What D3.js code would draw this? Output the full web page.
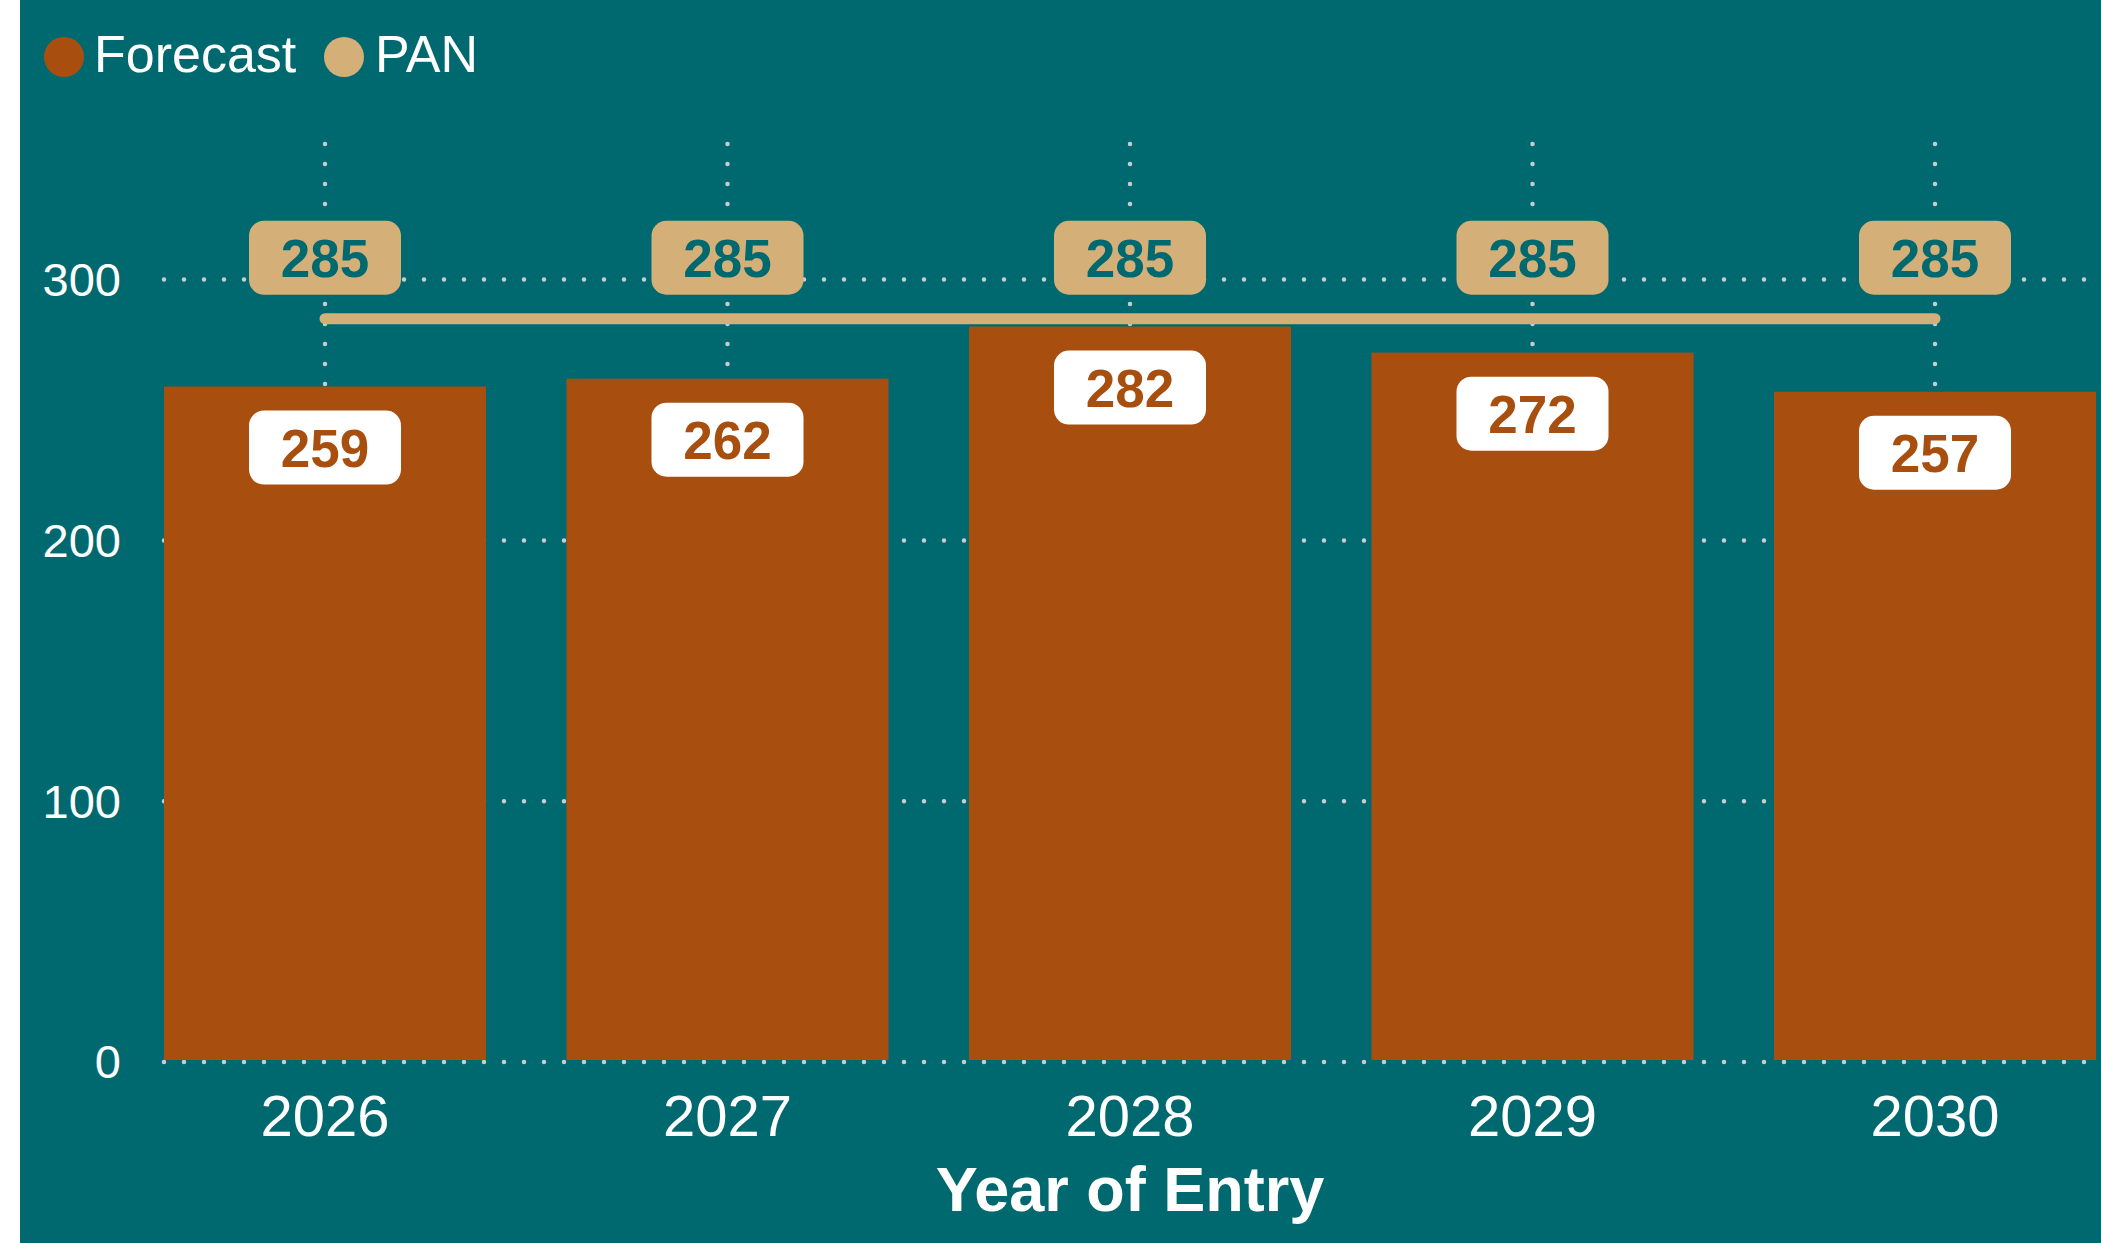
<!DOCTYPE html>
<html>
<head>
<meta charset="utf-8">
<script src="https://cdn.jsdelivr.net/npm/d3@7"></script>
<style>
  html, body { margin: 0; padding: 0; background: #ffffff; }
  svg { display: block; }
  text { font-family: "Liberation Sans", Arial, Helvetica, sans-serif; }
</style>
</head>
<body>
<svg id="chart" width="2101" height="1243"></svg>
<script>
// ---- data ----
const years = ["2026", "2027", "2028", "2029", "2030"];
const forecast = [259, 262, 282, 272, 257];
const pan = [285, 285, 285, 285, 285];
const yTicks = [0, 100, 200, 300];
const seriesNames = ["Forecast", "PAN"];
const axisTitle = "Year of Entry";

// ---- styles ----
const TEAL = "#006970";
const BAR = "#A84F10";
const PANC = "#D4B078";
const GRID = "#c9cdd0";

const W = 2101, H = 1243;
const svg = d3.select("#chart");

svg.append("rect").attr("x", 20).attr("y", 0).attr("width", W - 20).attr("height", H).attr("fill", TEAL);

const plot = { left: 164, right: 2096, top: 144, bottom: 1062 };

const x = d3.scaleBand().domain(years).range([plot.left, plot.right]).paddingInner(0.2).paddingOuter(0);
const y = d3.scaleLinear().domain([0, 352]).range([plot.bottom, plot.top]);

// gridlines (dotted)
const grid = svg.append("g");
grid.selectAll("line.h").data(yTicks).join("line")
  .attr("x1", plot.left).attr("x2", plot.right)
  .attr("y1", d => y(d)).attr("y2", d => y(d))
  .attr("stroke", GRID).attr("stroke-width", 4.5)
  .attr("stroke-linecap", "round").attr("stroke-dasharray", "0 20");
grid.selectAll("line.v").data(years).join("line")
  .attr("x1", d => x(d) + x.bandwidth() / 2).attr("x2", d => x(d) + x.bandwidth() / 2)
  .attr("y1", plot.top).attr("y2", plot.bottom)
  .attr("stroke", GRID).attr("stroke-width", 4.5)
  .attr("stroke-linecap", "round").attr("stroke-dasharray", "0 20");

// y axis
const yAxis = d3.axisLeft(y).tickValues(yTicks).tickSize(0).tickPadding(0);
const yg = svg.append("g").attr("transform", "translate(121,0)").call(yAxis);
yg.select(".domain").remove();
yg.selectAll("text").attr("fill", "#ffffff").attr("font-size", 47).attr("dy", "0.34em")
  .attr("font-family", "'Liberation Sans', Arial, sans-serif");

// x axis
const xAxis = d3.axisBottom(x).tickSize(0).tickPadding(0);
const xg = svg.append("g").attr("transform", "translate(0,1136)").call(xAxis);
xg.select(".domain").remove();
xg.selectAll("text").attr("fill", "#ffffff").attr("font-size", 58).attr("dy", 0)
  .attr("font-family", "'Liberation Sans', Arial, sans-serif");

// axis title
svg.append("text").attr("x", (plot.left + plot.right) / 2 - 0).attr("y", 1211)
  .attr("text-anchor", "middle").attr("fill", "#ffffff")
  .attr("font-size", 63).attr("font-weight", "bold").text(axisTitle);

// bars
svg.append("g").selectAll("rect").data(years).join("rect")
  .attr("x", d => x(d)).attr("width", x.bandwidth())
  .attr("y", (d, i) => y(forecast[i]))
  .attr("height", (d, i) => y(0) - 2 - y(forecast[i]))
  .attr("fill", BAR);

// PAN line
const line = d3.line().x((d, i) => x(years[i]) + x.bandwidth() / 2).y(d => y(d));
svg.append("path").datum(pan).attr("d", line)
  .attr("fill", "none").attr("stroke", PANC).attr("stroke-width", 11)
  .attr("stroke-linecap", "round");

// labels
const BW = 152, BH = 74;
const panLab = svg.append("g").selectAll("g").data(years).join("g")
  .attr("transform", (d, i) => `translate(${x(d) + x.bandwidth() / 2},${y(pan[i]) - 61})`);
panLab.append("rect").attr("x", -BW / 2).attr("y", -BH / 2).attr("width", BW).attr("height", BH)
  .attr("rx", 15).attr("fill", PANC);
panLab.append("text").attr("text-anchor", "middle").attr("dy", "0.36em")
  .attr("font-size", 53).attr("font-weight", "bold").attr("fill", TEAL)
  .text((d, i) => pan[i]);

const fcLab = svg.append("g").selectAll("g").data(years).join("g")
  .attr("transform", (d, i) => `translate(${x(d) + x.bandwidth() / 2},${y(forecast[i]) + 61})`);
fcLab.append("rect").attr("x", -BW / 2).attr("y", -BH / 2).attr("width", BW).attr("height", BH)
  .attr("rx", 15).attr("fill", "#ffffff");
fcLab.append("text").attr("text-anchor", "middle").attr("dy", "0.36em")
  .attr("font-size", 53).attr("font-weight", "bold").attr("fill", BAR)
  .text((d, i) => forecast[i]);

// legend
const legend = svg.append("g");
const legItems = [{ name: seriesNames[0], color: BAR, cx: 64, tx: 94 }, { name: seriesNames[1], color: PANC, cx: 344, tx: 375 }];
legItems.forEach(it => {
  legend.append("circle").attr("cx", it.cx).attr("cy", 57).attr("r", 20).attr("fill", it.color);
  legend.append("text").attr("x", it.tx).attr("y", 72).attr("fill", "#ffffff")
    .attr("font-size", 52).text(it.name);
});
</script>
</body>
</html>
